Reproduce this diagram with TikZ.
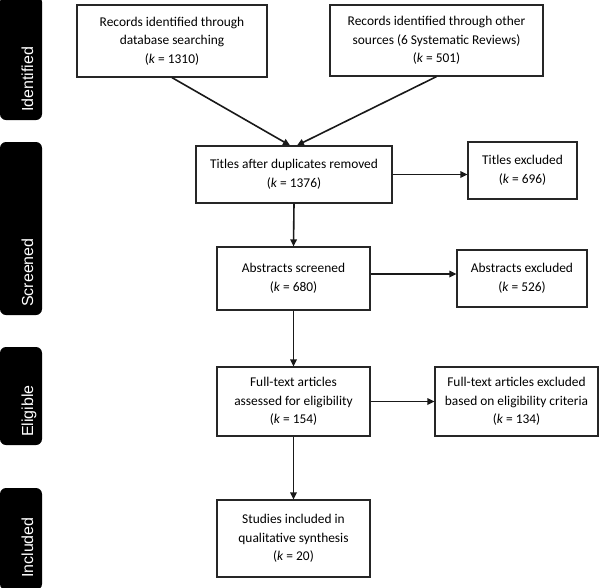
\documentclass[tikz,border=0pt]{standalone}
\usepackage{fontspec}
\setmainfont{Carlito}
\newfontfamily\sidefont{Liberation Sans}
\usetikzlibrary{arrows.meta}
\begin{document}
\begin{tikzpicture}[x=1pt,y=-1pt,
  box/.style={draw=black!85,line width=1.2pt,align=center,inner sep=0pt,
    font=\fontsize{13.4}{18.5}\selectfont},
  arr/.style={draw=black!90,line width=1.6pt,-{Triangle[length=7pt,width=6.5pt]}},
  sidebar/.style={fill=black,rounded corners=6pt},
  sidelabel/.style={rotate=90,anchor=base west,inner sep=0pt,text=white,
    font=\sidefont\fontsize{16}{16}\selectfont}]
\useasboundingbox (0,0) rectangle (600,587);
% side bars
\fill[sidebar] (0,-4) rectangle (42,120);
\fill[sidebar] (0,142) rectangle (42,315);
\fill[sidebar] (0,347) rectangle (42,445);
\fill[sidebar] (0,488) rectangle (42,590);
\node[sidelabel] (lid) at (33,112) {Identified};
\node[sidelabel] (lsc) at (33,307) {Screened};
\node[sidelabel] (lel) at (33,437) {Eligible};
\node[sidelabel] (lin) at (33,578) {Included};
% boxes
\node[box,minimum width=190pt,minimum height=72pt] (rec1) at (172,41)
  {Records identified through\\database searching\\(\textit{k} = 1310)};
\node[box,minimum width=213pt,minimum height=71pt] (rec2) at (436.5,40.5)
  {Records identified through other\\sources (6 Systematic Reviews)\\(\textit{k} = 501)};
\node[box,minimum width=196pt,minimum height=57pt] (tit) at (294,174.5)
  {Titles after duplicates removed\\(\textit{k} = 1376)};
\node[box,minimum width=109pt,minimum height=57pt] (texc) at (522.5,170.5)
  {Titles excluded\\(\textit{k} = 696)};
\node[box,minimum width=153pt,minimum height=63pt] (abs) at (293.5,278.5)
  {Abstracts screened\\(\textit{k} = 680)};
\node[box,minimum width=130pt,minimum height=57pt] (aexc) at (522,278.5)
  {Abstracts excluded\\(\textit{k} = 526)};
\node[box,minimum width=153pt,minimum height=69pt] (full) at (293.5,401.5)
  {Full-text articles\\assessed for eligibility\\(\textit{k} = 154)};
\node[box,minimum width=163pt,minimum height=69pt] (fexc) at (516.5,401.5)
  {Full-text articles excluded\\based on eligibility criteria\\(\textit{k} = 134)};
\node[box,minimum width=153pt,minimum height=77pt] (stud) at (293.5,538.5)
  {Studies included in\\qualitative synthesis\\(\textit{k} = 20)};
% connectors
\draw[arr] (rec1.south) -- ([xshift=-4pt]tit.north);
\draw[arr] (rec2.south) -- ([xshift=3pt]tit.north);
\draw[arr] (tit.east) -- (tit.east -| texc.west);
\draw[arr] (tit.south) -- (abs.north);
\draw[arr] ([yshift=4.5pt]abs.east) -- ([yshift=4.5pt]abs.east -| aexc.west);
\draw[arr] (abs.south) -- (full.north);
\draw[arr] (full.east) -- (full.east -| fexc.west);
\draw[arr] (full.south) -- (stud.north);
\end{tikzpicture}
\end{document}
